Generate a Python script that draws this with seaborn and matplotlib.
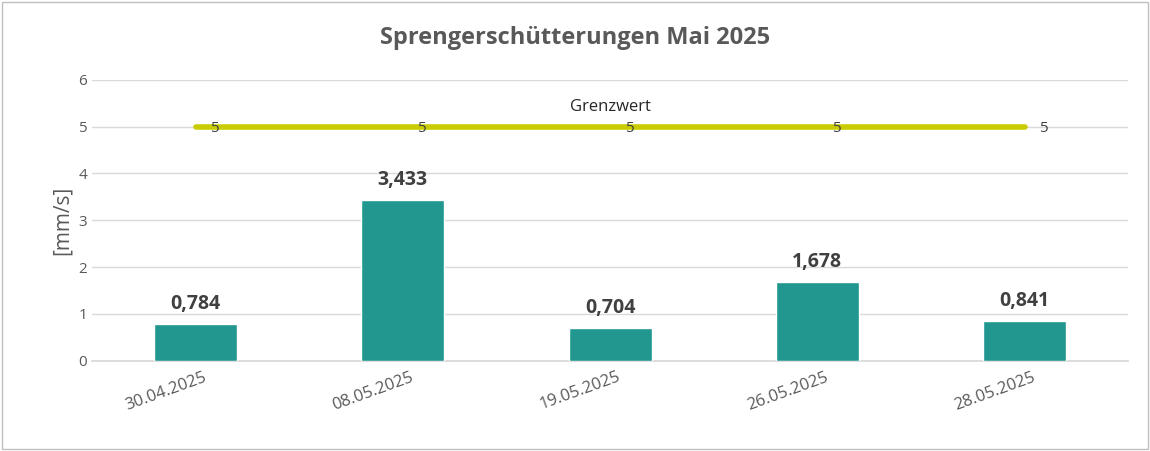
import matplotlib
matplotlib.use("Agg")
import matplotlib.pyplot as plt
import matplotlib.transforms as mtransforms
import pandas as pd
import seaborn as sns

dates = ["30.04.2025", "08.05.2025", "19.05.2025", "26.05.2025", "28.05.2025"]
values = [0.784, 3.433, 0.704, 1.678, 0.841]
limit = [5, 5, 5, 5, 5]

df = pd.DataFrame({"Datum": dates, "Wert": values})
sns.set_theme(style="white", font="Open Sans")

fig = plt.figure(figsize=(11.5, 4.51), dpi=100)
ax = fig.add_axes([0.08, 0.2, 0.901, 0.623])
sns.barplot(data=df, x="Datum", y="Wert", color="#21978F", width=0.4,
            saturation=1, ax=ax, zorder=3)
ax.plot(range(len(dates)), limit, color="#C8CC00", linewidth=4, zorder=4,
        solid_capstyle="round")
for i, v in enumerate(limit):
    ax.text(i + 0.07, v - 0.05, str(v), va="center", ha="left", fontsize=11,
            color="#404040", zorder=5)
ax.text(2, 5.25, "Grenzwert", ha="center", va="bottom", fontsize=12, color="#262626")
for i, v in enumerate(values):
    ax.text(i, v + 0.22, f"{v:.3f}".replace(".", ","), ha="center", va="bottom",
            fontsize=14, fontweight="bold", color="#404040")

ax.set_ylim(0, 6)
ax.set_xlim(-0.5, 4.5)
ax.set_yticks(range(7))
ax.yaxis.grid(True, color="#D9D9D9", linewidth=1, zorder=0)
for s in ["top", "right", "left"]:
    ax.spines[s].set_visible(False)
ax.spines["bottom"].set_color("#D9D9D9")
ax.tick_params(axis="y", labelsize=11, labelcolor="#595959", length=0)
ax.tick_params(axis="x", labelsize=12, labelcolor="#595959", length=0, pad=6)
shift = mtransforms.ScaledTranslation(-0.3, 0, fig.dpi_scale_trans)
for lbl in ax.get_xticklabels():
    lbl.set_rotation(20)
    lbl.set_ha("center")
    lbl.set_transform(lbl.get_transform() + shift)
ax.set_xlabel("")
ax.set_ylabel("[mm/s]", fontsize=15, color="#595959")
fig.text(0.5, 0.915, "Sprengerschütterungen Mai 2025", ha="center", va="center",
         fontsize=17, fontweight="bold", color="#595959")
fig.patches.append(plt.Rectangle((0.002, 0.004), 0.996, 0.992, transform=fig.transFigure,
                                 fill=False, edgecolor="#BFBFBF", linewidth=1))
fig.savefig("out.png", dpi=100)
